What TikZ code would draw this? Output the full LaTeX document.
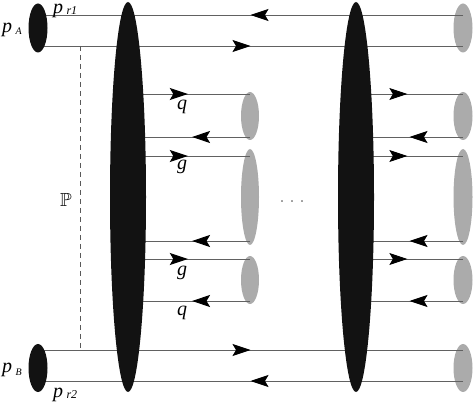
\documentclass[tikz,border=0pt]{standalone}
\usepackage{fontspec}
\usepackage{amssymb}
\setmainfont{Liberation Serif}
\usetikzlibrary{shapes.geometric,arrows.meta,decorations.markings}
\begin{document}
\begin{tikzpicture}[x=1pt,y=-1pt,
  font=\fontsize{20}{22}\selectfont,
  blk/.style={ellipse,fill=black!93,draw=none,inner sep=0pt},
  gry/.style={ellipse,fill=black!33,draw=none,inner sep=0pt},
  ln/.style={draw=black!62,line width=0.9pt},
  arr/.style={ln,postaction={decorate},decoration={markings,mark=at position #1 with {\arrow[black]{Stealth[length=18pt,width=12pt,inset=3.5pt]}}}},
  lbl/.style={inner sep=0pt,anchor=base west}]
\useasboundingbox (0,0) rectangle (474,403);
% grey ellipses
\node[gry,minimum width=18pt,minimum height=48pt] (M1) at (250,116) {};
\node[gry,minimum width=18pt,minimum height=96pt] (M2) at (250,197) {};
\node[gry,minimum width=18pt,minimum height=48pt] (M3) at (250,280) {};
\node[gry,minimum width=19pt,minimum height=49pt] (R1) at (463,28) {};
\node[gry,minimum width=19pt,minimum height=48pt] (R2) at (463,116) {};
\node[gry,minimum width=19pt,minimum height=96pt] (R3) at (463,197) {};
\node[gry,minimum width=19pt,minimum height=48pt] (R4) at (463,280) {};
\node[gry,minimum width=19pt,minimum height=48pt] (R5) at (463,368) {};
% line end points
\foreach \y/\n in {15/ta,46/tb,350/ba,381/bb}{
  \coordinate (\n L) at (38,\y);
  \coordinate (\n R) at (463,\y);
}
\foreach \y/\n in {94/ma,137/mb,156/mc,241/md,259/me,301/mf}{
  \coordinate (\n 1) at (128,\y);
  \coordinate (\n 2) at (250,\y);
  \coordinate (\n 3) at (356,\y);
  \coordinate (\n 4) at (463,\y);
}
\coordinate (dtop) at (80,46);
\coordinate (dbot) at (80,350);
% long lines
\draw[arr=0.5] (taR) -- (taL);
\draw[arr=0.5] (tbL) -- (tbR);
\draw[arr=0.5] (baL) -- (baR);
\draw[arr=0.5] (bbR) -- (bbL);
% middle lines
\foreach \n in {ma,mc,me}{
  \draw[arr=0.49] (\n 1) -- (\n 2);
  \draw[arr=0.48] (\n 3) -- (\n 4);
}
\foreach \n in {mb,md,mf}{
  \draw[arr=0.475] (\n 2) -- (\n 1);
  \draw[arr=0.5] (\n 4) -- (\n 3);
}
\draw[draw=black!65,line width=0.9pt,dash pattern=on 5pt off 4pt] (dtop) -- (dbot);
% black ellipses
\node[blk,minimum width=19pt,minimum height=49pt] (A) at (38,28) {};
\node[blk,minimum width=19pt,minimum height=48pt] (B) at (38,368) {};
\node[blk,minimum width=36pt,minimum height=390pt] (E1) at (128,197) {};
\node[blk,minimum width=36pt,minimum height=390pt] (E2) at (356,197) {};
% labels
\node[lbl] (pA) at (2,33) {\textit{p}\,\raisebox{-2pt}{\fontsize{10}{10}\selectfont\textit{A}}};
\node[lbl] (pB) at (2,373) {\textit{p}\,\raisebox{-2pt}{\fontsize{10}{10}\selectfont\textit{B}}};
\node[lbl] (pr1) at (53,14) {\textit{p}\,\raisebox{-1pt}{\fontsize{12}{12}\selectfont\textit{r1}}};
\node[lbl] (pr2) at (53,397) {\textit{p}\,\raisebox{-1pt}{\fontsize{12}{12}\selectfont\textit{r2}}};
\node[inner sep=0pt,anchor=base] (q1) at (182,110) {\textit{q}};
\node[inner sep=0pt,anchor=base] (g1) at (182,170) {\textit{g}};
\node[inner sep=0pt,anchor=base] (g2) at (182,276) {\textit{g}};
\node[inner sep=0pt,anchor=base] (q2) at (182,316) {\textit{q}};
\node[inner sep=0pt] (P) at (66,200) {\fontsize{19}{20}\selectfont$\mathbb{P}$};
\node[inner sep=0pt] (dots) at (292,203) {\fontsize{12}{12}\selectfont ·\hspace{6pt}·\hspace{6pt}·};
\end{tikzpicture}
\end{document}
